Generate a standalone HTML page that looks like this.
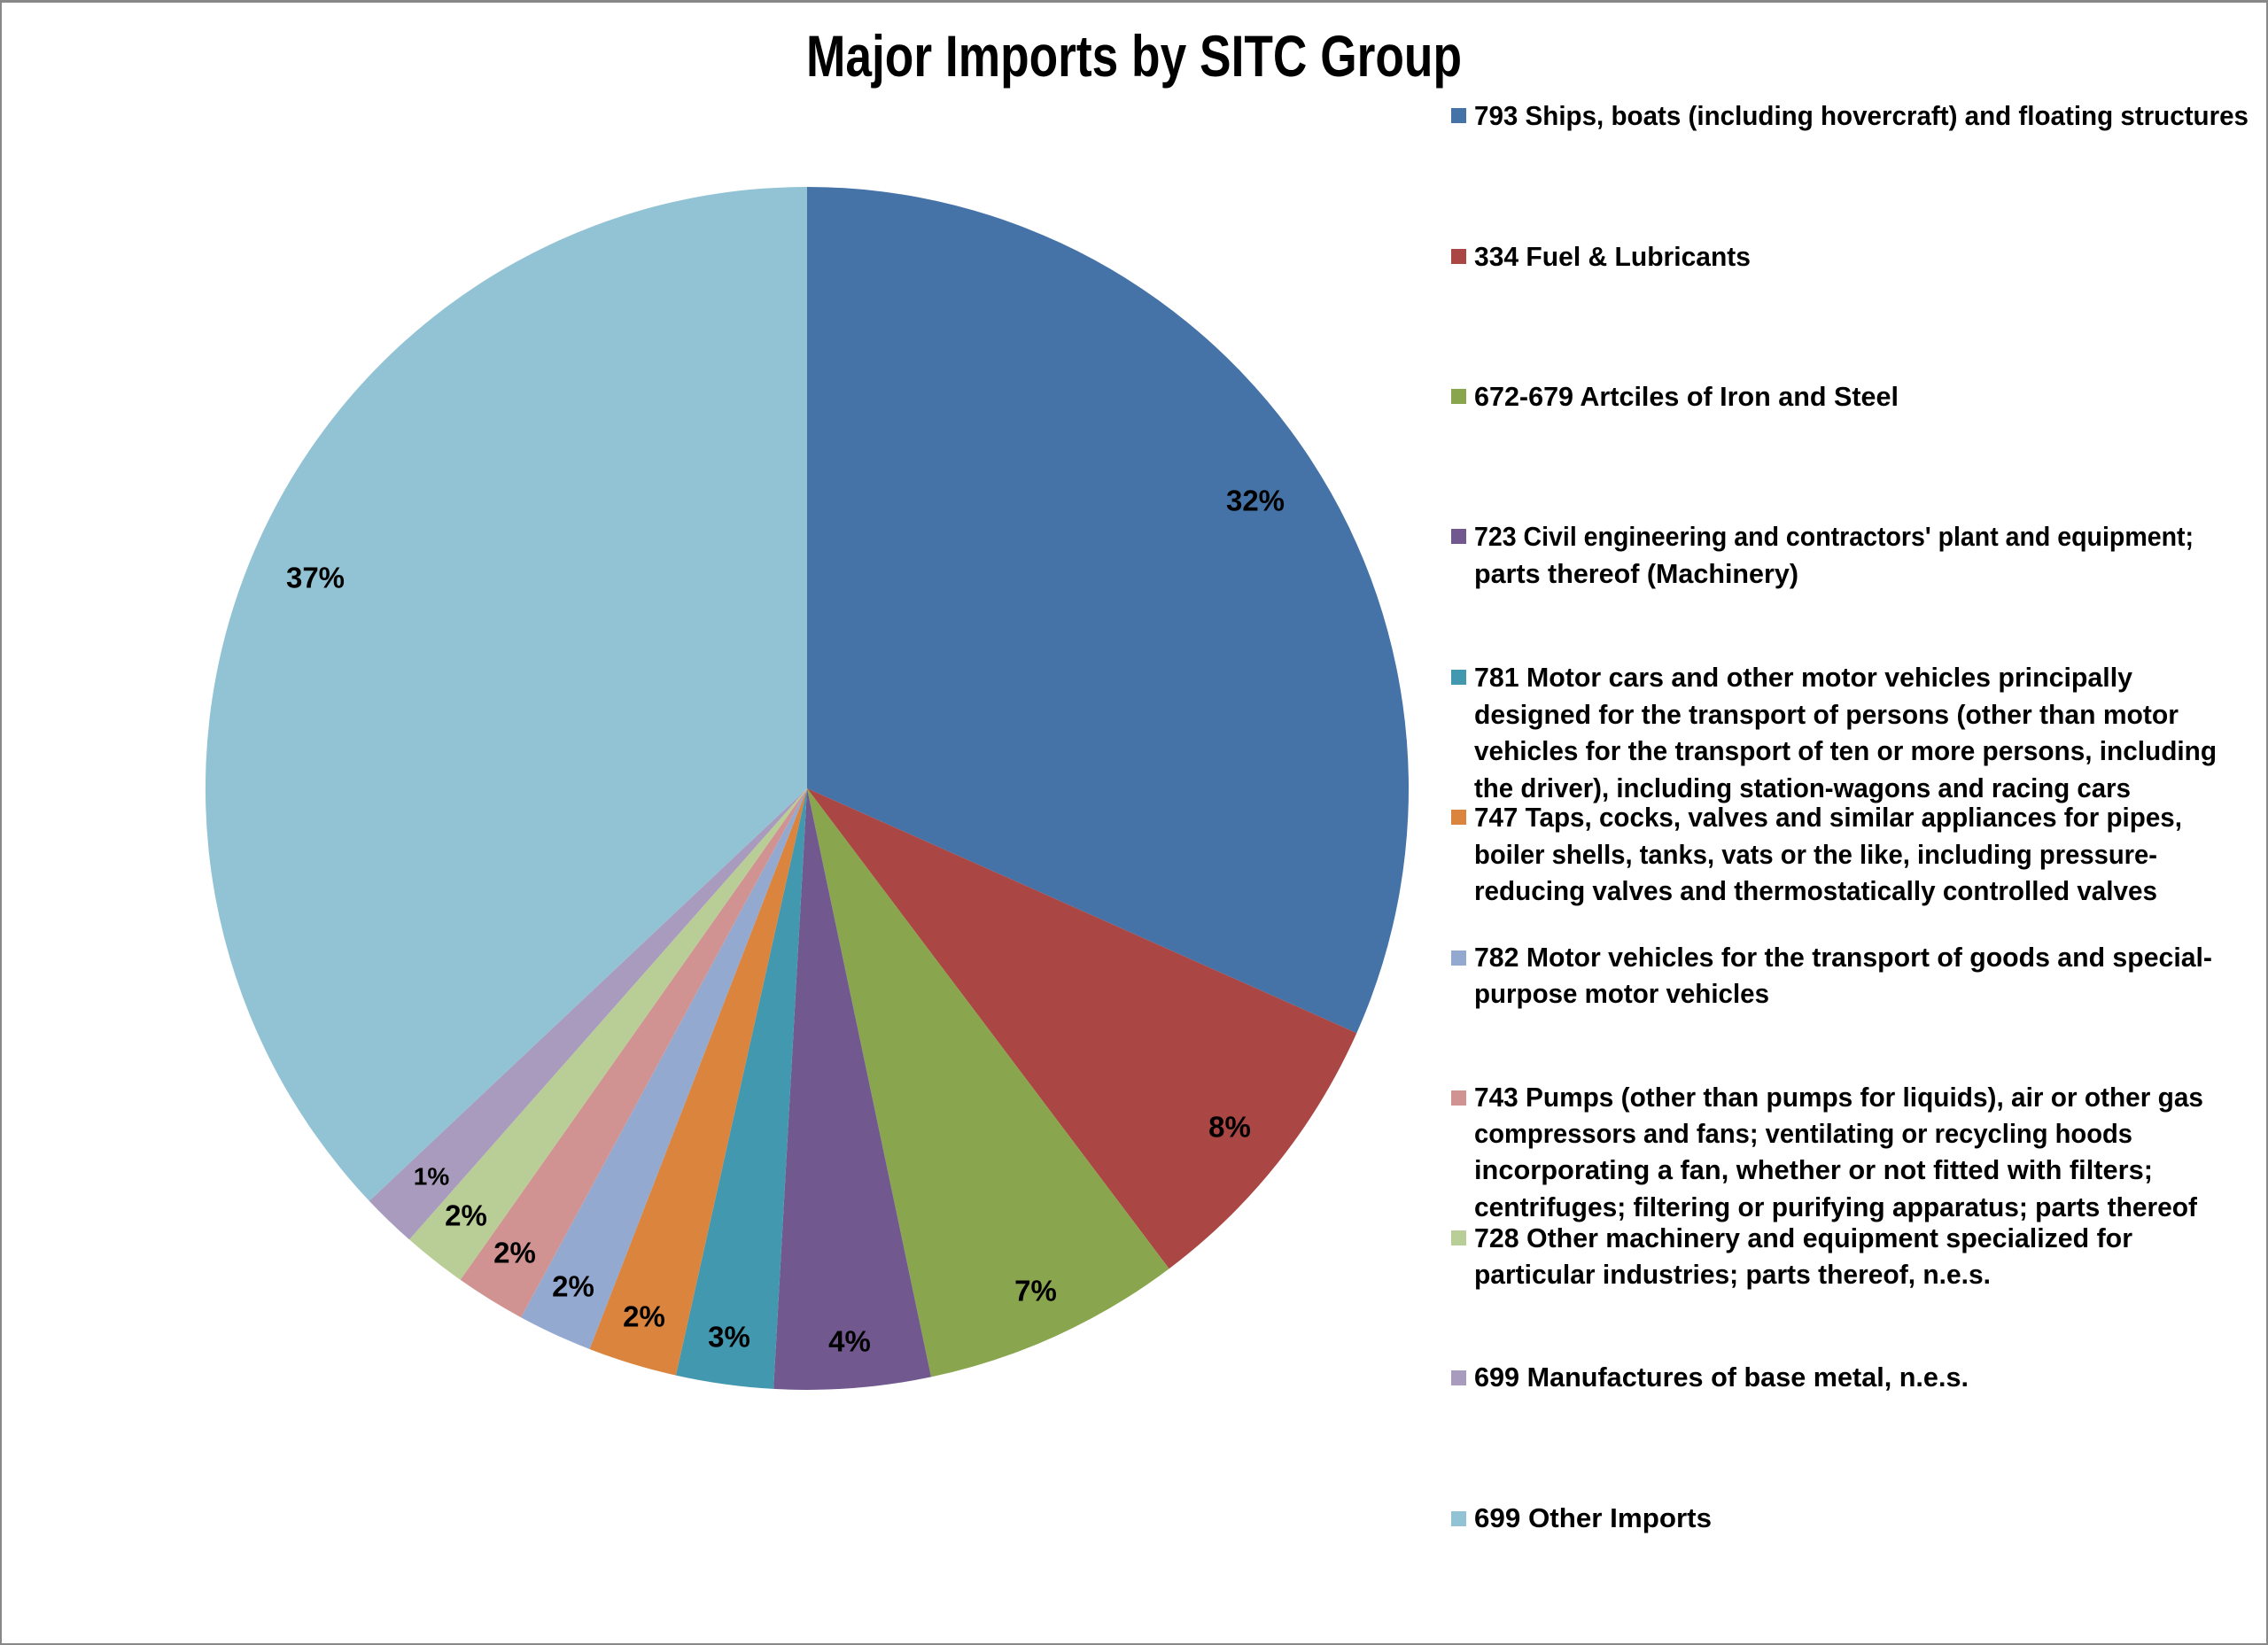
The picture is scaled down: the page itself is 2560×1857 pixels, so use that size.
<!DOCTYPE html>
<html><head><meta charset="utf-8"><style>
html,body{margin:0;padding:0;background:#fff;}
svg{display:block;}
text{font-family:"Liberation Sans",sans-serif;font-weight:bold;fill:#000;}
</style></head><body>
<svg width="2560" height="1857" viewBox="0 0 2560 1857" xmlns="http://www.w3.org/2000/svg">
<rect x="1" y="1" width="2558" height="1855" fill="#fff" stroke="#888" stroke-width="2"/>
<rect x="0" y="0" width="2560" height="3" fill="#888"/>
<text x="1280" y="86" font-size="66" text-anchor="middle" textLength="740" lengthAdjust="spacingAndGlyphs">Major Imports by SITC Group</text>
<g stroke="none">
<path d="M911,890 L911,211 A679,679 0 0 1 1531.3,1166.2 Z" fill="#4572A7"/>
<path d="M911,890 L1531.3,1166.2 A679,679 0 0 1 1319.6,1432.2 Z" fill="#AA4643"/>
<path d="M911,890 L1319.6,1432.2 A679,679 0 0 1 1051.0,1554.4 Z" fill="#89A54E"/>
<path d="M911,890 L1051.0,1554.4 A679,679 0 0 1 873.1,1567.9 Z" fill="#71588F"/>
<path d="M911,890 L873.1,1567.9 A679,679 0 0 1 762.9,1552.6 Z" fill="#4198AF"/>
<path d="M911,890 L762.9,1552.6 A679,679 0 0 1 665.5,1523.0 Z" fill="#DB843D"/>
<path d="M911,890 L665.5,1523.0 A679,679 0 0 1 588.1,1487.2 Z" fill="#93A9CF"/>
<path d="M911,890 L588.1,1487.2 A679,679 0 0 1 519.6,1444.8 Z" fill="#D19392"/>
<path d="M911,890 L519.6,1444.8 A679,679 0 0 1 462.0,1399.3 Z" fill="#B9CD96"/>
<path d="M911,890 L462.0,1399.3 A679,679 0 0 1 416.8,1355.7 Z" fill="#A99BBD"/>
<path d="M911,890 L416.8,1355.7 A679,679 0 0 1 911,211 Z" fill="#92C3D5"/>
</g>
<g font-size="33" text-anchor="middle" dominant-baseline="central">
<text x="1417" y="565">32%</text>
<text x="1388" y="1272">8%</text>
<text x="1169" y="1457">7%</text>
<text x="959" y="1514">4%</text>
<text x="823" y="1509">3%</text>
<text x="727" y="1486">2%</text>
<text x="647" y="1452">2%</text>
<text x="581" y="1414">2%</text>
<text x="526" y="1372">2%</text>
<text x="487" y="1328" font-size="28">1%</text>
<text x="356" y="652">37%</text>
</g>
<g>
<rect x="1638" y="122" width="17" height="17" fill="#4572A7"/>
<rect x="1638" y="281" width="17" height="17" fill="#AA4643"/>
<rect x="1638" y="439" width="17" height="17" fill="#89A54E"/>
<rect x="1638" y="597" width="17" height="17" fill="#71588F"/>
<rect x="1638" y="756" width="17" height="17" fill="#4198AF"/>
<rect x="1638" y="914" width="17" height="17" fill="#DB843D"/>
<rect x="1638" y="1073" width="17" height="17" fill="#93A9CF"/>
<rect x="1638" y="1231" width="17" height="17" fill="#D19392"/>
<rect x="1638" y="1389" width="17" height="17" fill="#B9CD96"/>
<rect x="1638" y="1547" width="17" height="17" fill="#A99BBD"/>
<rect x="1638" y="1706" width="17" height="17" fill="#92C3D5"/>
</g>
<g font-size="31">
<text x="1664" y="141" textLength="874" lengthAdjust="spacingAndGlyphs">793 Ships, boats (including hovercraft) and floating structures</text>
<text x="1664" y="300" textLength="312" lengthAdjust="spacingAndGlyphs">334  Fuel &amp; Lubricants</text>
<text x="1664" y="458" textLength="479" lengthAdjust="spacingAndGlyphs">672-679  Artciles of Iron and Steel</text>
<text x="1664" y="616" textLength="812" lengthAdjust="spacingAndGlyphs">723  Civil engineering and contractors' plant and equipment;</text>
<text x="1664" y="658" textLength="366" lengthAdjust="spacingAndGlyphs">parts thereof (Machinery)</text>
<text x="1664" y="775" textLength="743" lengthAdjust="spacingAndGlyphs">781  Motor cars and other motor vehicles principally</text>
<text x="1664" y="817" textLength="795" lengthAdjust="spacingAndGlyphs">designed for the transport of persons (other than motor</text>
<text x="1664" y="858" textLength="838" lengthAdjust="spacingAndGlyphs">vehicles for the transport of ten or more persons, including</text>
<text x="1664" y="900" textLength="741" lengthAdjust="spacingAndGlyphs">the driver), including station-wagons and racing cars</text>
<text x="1664" y="933" textLength="799" lengthAdjust="spacingAndGlyphs">747  Taps, cocks, valves and similar appliances for pipes,</text>
<text x="1664" y="975" textLength="771" lengthAdjust="spacingAndGlyphs">boiler shells, tanks, vats or the like, including pressure-</text>
<text x="1664" y="1016" textLength="771" lengthAdjust="spacingAndGlyphs">reducing valves and thermostatically controlled valves</text>
<text x="1664" y="1091" textLength="833" lengthAdjust="spacingAndGlyphs">782  Motor vehicles for the transport of goods and special-</text>
<text x="1664" y="1132" textLength="333" lengthAdjust="spacingAndGlyphs">purpose motor vehicles</text>
<text x="1664" y="1249" textLength="823" lengthAdjust="spacingAndGlyphs">743 Pumps (other than pumps for liquids), air or other gas</text>
<text x="1664" y="1290" textLength="743" lengthAdjust="spacingAndGlyphs">compressors and fans; ventilating or recycling hoods</text>
<text x="1664" y="1331" textLength="766" lengthAdjust="spacingAndGlyphs">incorporating a fan, whether or not fitted with filters;</text>
<text x="1664" y="1373" textLength="816" lengthAdjust="spacingAndGlyphs">centrifuges; filtering or purifying apparatus; parts thereof</text>
<text x="1664" y="1408" textLength="743" lengthAdjust="spacingAndGlyphs">728  Other machinery and equipment specialized for</text>
<text x="1664" y="1449" textLength="583" lengthAdjust="spacingAndGlyphs">particular industries; parts thereof, n.e.s.</text>
<text x="1664" y="1565" textLength="558" lengthAdjust="spacingAndGlyphs">699  Manufactures of base metal, n.e.s.</text>
<text x="1664" y="1724" textLength="268" lengthAdjust="spacingAndGlyphs">699  Other Imports</text>
</g>
</svg>
</body></html>
